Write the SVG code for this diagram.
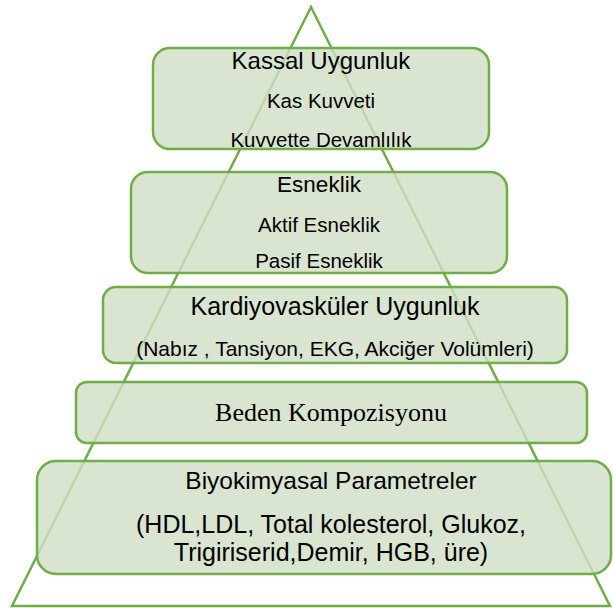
<svg xmlns="http://www.w3.org/2000/svg" width="613" height="608" viewBox="0 0 613 608">
<style>
.box{fill:#cfdec4;fill-opacity:0.8;stroke:#70ad47;stroke-width:2.5}
.tri{fill:none;stroke:#70ad47;stroke-width:2.5;stroke-linejoin:miter}
text{font-family:"Liberation Sans",Arial,sans-serif;fill:#000;text-anchor:middle}
.serif{font-family:"Liberation Serif","Times New Roman",serif}
</style>
<rect width="613" height="608" fill="#fff"/>
<g id="connectors">
<polygon class="tri" points="311,7 12,606 610,606"/>
</g>
<g id="kassal">
<rect class="box" x="153" y="48" width="336" height="101" rx="17"/>
<text x="321" y="69" font-size="24">Kassal Uygunluk</text>
<text x="321" y="108" font-size="20.5">Kas Kuvveti</text>
<text x="321" y="147" font-size="20.5">Kuvvette Devamlılık</text>
</g>
<g id="esneklik">
<rect class="box" x="131" y="172" width="376" height="101" rx="17"/>
<text x="319" y="192" font-size="22.5">Esneklik</text>
<text x="319" y="232" font-size="20.5">Aktif Esneklik</text>
<text x="319" y="268" font-size="20.5">Pasif Esneklik</text>
</g>
<g id="kardiyo">
<rect class="box" x="103" y="287" width="464" height="76" rx="13"/>
<text x="335" y="315" font-size="25">Kardiyovasküler Uygunluk</text>
<text x="335" y="356" font-size="21">(Nabız , Tansiyon, EKG, Akciğer Volümleri)</text>
</g>
<g id="beden">
<rect class="box" x="76" y="382" width="511" height="61" rx="11"/>
<text class="serif" x="331" y="421" font-size="26">Beden Kompozisyonu</text>
</g>
<g id="biyokimya">
<rect class="box" x="37" y="461" width="574" height="113" rx="19"/>
<text x="331" y="489" font-size="24.5">Biyokimyasal Parametreler</text>
<text x="331" y="533" font-size="25">(HDL,LDL, Total kolesterol, Glukoz,</text>
<text x="331" y="561" font-size="25">Trigiriserid,Demir, HGB, üre)</text>
</g>
</svg>
